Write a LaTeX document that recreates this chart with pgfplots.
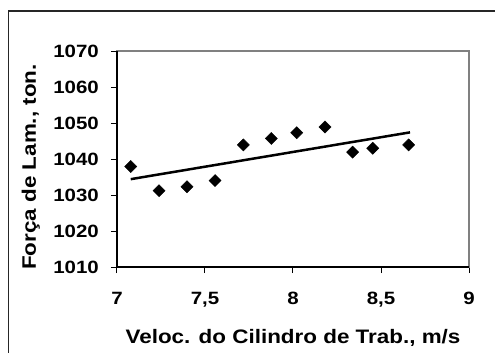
\documentclass[border=0pt]{standalone}
\usepackage{fontspec}
\setmainfont{Liberation Sans}[FakeStretch=1.15]
\usepackage{pgfplots}
\pgfplotsset{compat=1.18}
\newcommand{\tickfont}{\fontsize{17.8bp}{18bp}\selectfont\bfseries}

\begin{document}
\begin{tikzpicture}
\useasboundingbox (-117bp,-86bp) rectangle (378bp,267bp);
% outer chart frame (left and top only visible)
\draw[line width=1.5bp, black!85] (-108.5bp,-86bp) -- (-108.5bp,256bp) -- (378bp,256bp);
\begin{axis}[
    at={(0,0)}, anchor=origin,
    scale only axis,
    width=352bp, height=216bp,
    xmin=7, xmax=9,
    ymin=1010, ymax=1070,
    xtick={7,7.5,8,8.5,9},
    xticklabels={{\tickfont 7},{\tickfont 7,5},{\tickfont 8},{\tickfont 8,5},{\tickfont 9}},
    ytick={1010,1020,1030,1040,1050,1060,1070},
    yticklabels={{\tickfont 1010},{\tickfont 1020},{\tickfont 1030},{\tickfont 1040},{\tickfont 1050},{\tickfont 1060},{\tickfont 1070}},
    tick align=outside,
    tickpos=left,
    major tick length=6bp,
    tick style={black, line width=1bp},
    axis line style={draw=gray, line width=1.8bp},
    yticklabel style={inner sep=0pt, anchor=east, xshift=-12bp},
    xticklabel style={inner sep=0pt, anchor=north, yshift=-19bp},
    xlabel={Veloc. do Cilindro de Trab., m/s},
    ylabel={Força de Lam., ton.},
    label style={font=\fontsize{19.5bp}{19.5bp}\selectfont\bfseries, inner sep=0pt},
    xlabel style={at={(axis description cs:0.5,0)}, anchor=base, yshift=-76bp},
    ylabel style={at={([xshift=-81bp]axis description cs:0,0.463)}, anchor=base},
    clip=false,
]
\draw[black, line width=1.5bp] (rel axis cs:0,1) -- (rel axis cs:0,0) -- (rel axis cs:1,0);
\addplot[black, line width=2.5bp] coordinates {
  (7.078, 1034.4) (8.665, 1047.4)
};
\addplot[only marks, mark=square*, mark size=4.3bp, mark options={rotate=45, fill=black, draw=black}] coordinates {
  (7.078, 1037.9) (7.239, 1031.2) (7.398, 1032.3) (7.557, 1034.0)
  (7.718, 1043.9) (7.877, 1045.7) (8.021, 1047.3) (8.182, 1048.9)
  (8.339, 1041.9) (8.453, 1043.0) (8.657, 1043.9)
};
\end{axis}
\end{tikzpicture}
\end{document}
